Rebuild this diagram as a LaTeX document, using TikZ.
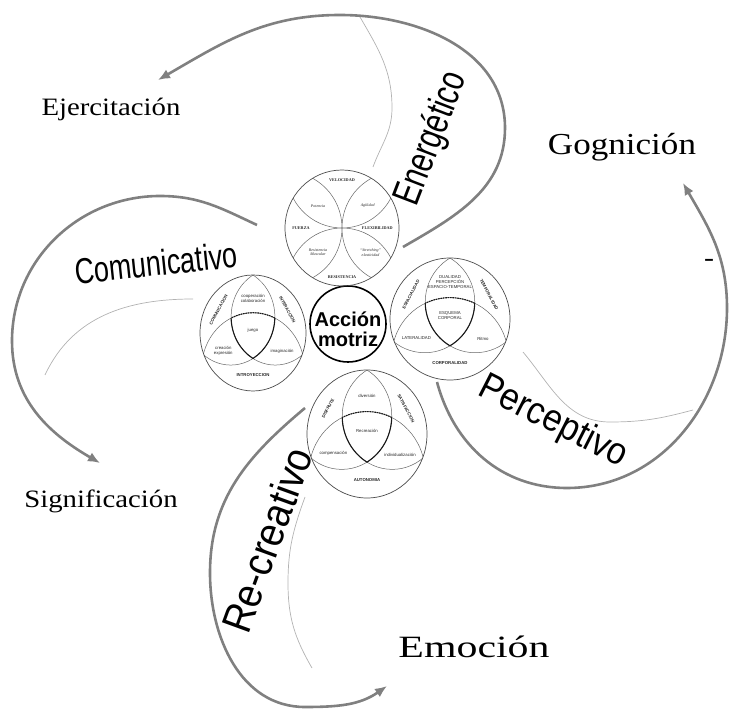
\documentclass[tikz,border=0pt]{standalone}
\usepackage{fontspec}
\setmainfont{Liberation Serif}
\newfontfamily\hubfont{Liberation Sans}
\newfontfamily\armfont[FakeStretch=0.75]{Liberation Sans}
\newfontfamily\armwidefont[FakeStretch=0.9]{Liberation Sans}
\newfontfamily\phasefont[FakeStretch=1.15]{Liberation Serif}
\newfontfamily\phasewidefont[FakeStretch=1.35]{Liberation Serif}
\usetikzlibrary{arrows.meta}

\begin{document}
\begin{tikzpicture}[x=1pt, y=1pt,
        arm/.style={draw=black!50, line width=2.6pt, -{Latex[length=12pt, width=10pt]}},
        guide/.style={draw=black!30, line width=0.7pt},
        ring/.style={draw=black!70, line width=0.7pt},
        web/.style={draw=black!60, line width=0.5pt},
        core/.style={draw=black!90, line width=1.1pt},
        hub/.style={circle, draw, line width=1.6pt, minimum size=76pt, inner sep=0pt},
        armlabel/.style={inner sep=0pt},
        phase/.style={inner sep=0pt, anchor=base},
        quality/.style={font=\bfseries\fontsize{4.2}{4.6}\selectfont, text=black!85, inner sep=0pt, align=center},
        aspect/.style={font=\itshape\fontsize{4}{4.6}\selectfont, text=black!85, inner sep=0pt, align=center},
        caps/.style={font=\hubfont\bfseries\fontsize{4.3}{4.8}\selectfont, text=black!85, inner sep=0pt, align=center},
        tag/.style={font=\hubfont\fontsize{4.3}{5}\selectfont, text=black!85, inner sep=0pt, align=center},
        pics/venn/.style n args={7}{code={
            \begin{scope}
                \clip (0,0) circle (1);
                \draw[web] (0.42,0.28) circle (0.833) (-0.42,0.28) circle (0.833) (0,-0.62) circle (0.97);
            \end{scope}
            \draw[ring] (0,0) circle (1);
            \draw[core] (-0.413,0.258) arc[start angle=181.5, end angle=239.7, radius=0.833]
                arc[start angle=-59.7, end angle=-1.5, radius=0.833];
            \draw[core, dash pattern=on 1.6pt off 0.8pt] (0.413,0.258) arc[start angle=64.8, end angle=115.2, radius=0.97];
            \node[tag] (-lens) at (0,0.6) {#1};
            \node[caps, rotate=62] (-izq) at (-0.65,0.4) {#2};
            \node[caps, rotate=-62] (-der) at (0.65,0.4) {#3};
            \node[tag] (-centro) at (0,0.05) {#4};
            \node[tag] (-abajoizq) at (-0.56,-0.31) {#5};
            \node[tag] (-abajoder) at (0.55,-0.32) {#6};
            \node[caps] (-base) at (0,-0.72) {#7};
        }}
    ]
    \useasboundingbox (0,0) rectangle (729,713);

    % centre and the four small circles
    \node[hub] (motriz) at (348,389) {};
    \node[inner sep=0pt, align=center, font=\hubfont\bfseries\fontsize{20}{20}\selectfont] (motriztexto) at (348,384) {Acción\\motriz};
    \coordinate (energia) at (342,485);
    \coordinate (comunica) at (253,380);
    \coordinate (percibe) at (450,394);
    \coordinate (recrea) at (367,279);

    \begin{scope}[shift={(energia)}, xscale=57, yscale=58]
        \begin{scope}
            \clip (0,0) circle (1);
            \draw[web] (0.97,0) circle (0.97) (-0.97,0) circle (0.97)
                       (0,0.97) circle (0.97) (0,-0.97) circle (0.97);
        \end{scope}
        \draw[ring] (0,0) circle (1);
        \node[quality] (velocidad) at (0,0.83) {VELOCIDAD};
        \node[quality] (fuerza) at (-0.72,0) {FUERZA};
        \node[quality] (flexibilidad) at (0.62,0) {FLEXIBILIDAD};
        \node[quality] (resistencia) at (0,-0.84) {RESISTENCIA};
        \node[aspect] (potencia) at (-0.42,0.38) {Potencia};
        \node[aspect] (agilidad) at (0.45,0.38) {Agilidad};
        \node[aspect] (muscular) at (-0.42,-0.42) {Resistencia\\Muscular};
        \node[aspect] (stretching) at (0.5,-0.42) {“Stretching”\\elasticidad};
    \end{scope}

    \pic[xscale=53, yscale=58] (vcom) at (comunica)
        {venn={cooperación\\colaboración}{COMUNICACION}{INTERACCION}{juego}{creación\\expresión}{imaginación}{INTROYECCION}};
    \pic[xscale=60, yscale=61] (vper) at (percibe)
        {venn={DUALIDAD\\PERCEPCIÓN\\ESPACIO-TEMPORAL}{ESPACIALIDAD}{TEMPORALIDAD}{ESQUEMA\\CORPORAL}{LATERALIDAD}{Ritmo}{CORPORALIDAD}};
    \pic[xscale=60, yscale=64] (vrec) at (recrea)
        {venn={diversión}{DISFRUTE}{SATISFACCION}{Recreación}{compensación}{individualización}{AUTONOMIA}};

    % arm ends
    \coordinate (e0) at (403,466); \coordinate (e1) at (505,585);
    \coordinate (e2) at (340,698); \coordinate (e3) at (158,633);
    \coordinate (et0) at (360,696); \coordinate (et1) at (392,605); \coordinate (et2) at (373,546);
    \coordinate (c0) at (257,488); \coordinate (c1) at (160,517);
    \coordinate (c2) at (12,372); \coordinate (c3) at (100,250);
    \coordinate (ct0) at (193,414); \coordinate (ct1) at (45,338);
    \coordinate (p0) at (437,331); \coordinate (p1) at (567,225);
    \coordinate (p2) at (727,405); \coordinate (p3) at (683,530);
    \coordinate (pt0) at (523,361); \coordinate (pt1) at (610,291); \coordinate (pt2) at (693,303);
    \coordinate (r0) at (305,305); \coordinate (r1) at (210,140);
    \coordinate (r2) at (305,6); \coordinate (r3) at (387,27);
    \coordinate (rt0) at (305,216); \coordinate (rt1) at (288,130); \coordinate (rt2) at (312,45);

    \draw[arm] (e0) to[out=30,in=-90] (e1) to[out=90,in=0] (e2) to[out=180,in=30] (e3);
    \draw[guide] (et0) to[out=-60,in=90] (et1) to[out=-90,in=70] (et2);
    \draw[arm] (c0) to[out=155,in=0] (c1) to[out=180,in=90] (c2) to[out=-90,in=150] (c3);
    \draw[guide] (ct0) to[out=180,in=65] (ct1);
    \draw[arm] (p0) to[out=-75,in=180] (p1) to[out=0,in=-90] (p2) to[out=90,in=-60] (p3);
    \draw[guide] (pt0) to[out=-50,in=180] (pt1) to[out=0,in=195] (pt2);
    \draw[arm] (r0) to[out=220,in=90] (r1) to[out=-90,in=180] (r2) to[out=0,in=215] (r3);
    \draw[guide] (rt0) to[out=-110,in=90] (rt1) to[out=-90,in=120] (rt2);

    % arm names
    \node[armlabel, rotate=69, font=\armfont\fontsize{39}{39}\selectfont] (energetico) at (432,574) {Energético};
    \node[armlabel, rotate=6, font=\armfont\fontsize{36}{36}\selectfont] (comunicativo) at (156,450) {Comunicativo};
    \node[armlabel, rotate=-27, font=\armwidefont\fontsize{38}{38}\selectfont] (perceptivo) at (553,291) {Perceptivo};
    \node[armlabel, rotate=70, font=\armwidefont\fontsize{42}{42}\selectfont] (recreativo) at (267,173) {Re-creativo};

    % phases
    \node[phase, font=\phasefont\fontsize{25}{25}\selectfont] (ejercitacion) at (111,597) {Ejercitación};
    \node[phase, font=\phasefont\fontsize{30.5}{30.5}\selectfont] (gognicion) at (622,558) {Gognición};
    \node[phase, font=\phasefont\fontsize{25}{25}\selectfont] (significacion) at (101,205) {Significación};
    \node[phase, font=\phasewidefont\fontsize{31}{31}\selectfont] (emocion) at (474,56) {Emoción};
    \node[phase, font=\phasefont\fontsize{26}{26}\selectfont] (guion) at (709,446) {-};
\end{tikzpicture}
\end{document}
